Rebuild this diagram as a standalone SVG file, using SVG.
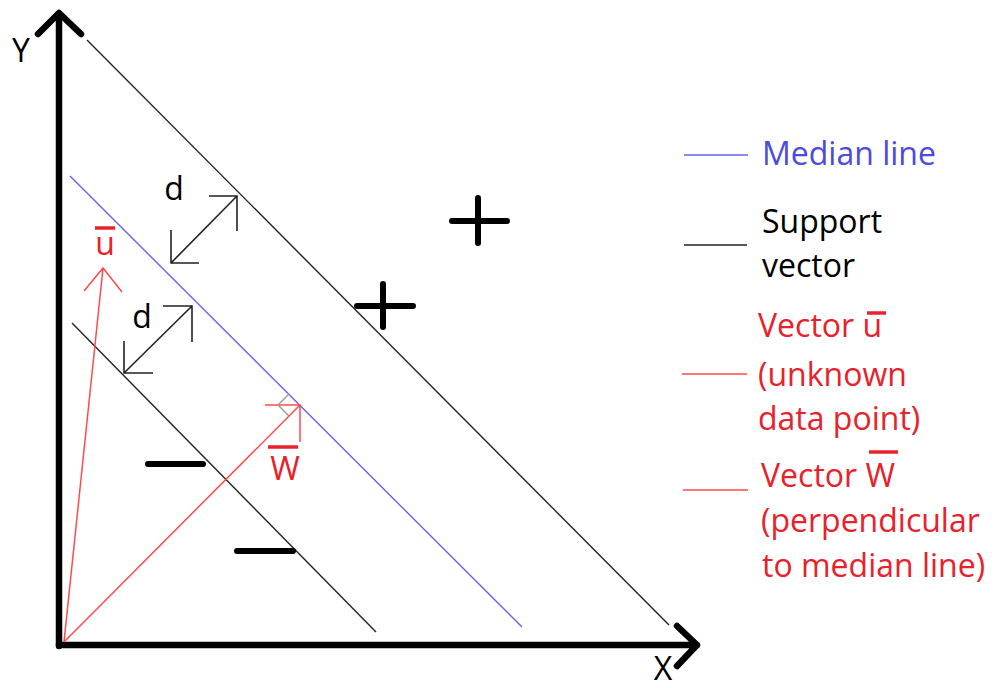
<svg xmlns="http://www.w3.org/2000/svg" width="995" height="688" viewBox="0 0 995 688">
<style>
.axis{stroke:#000;stroke-width:6.5;fill:none;stroke-linecap:round;stroke-linejoin:round}
.sv{stroke:#222;stroke-width:1.4;fill:none}
.med{stroke:#6464f0;stroke-width:1.4;fill:none}
.red{stroke:#ff4a4a;stroke-width:1.5;fill:none}
.dar{stroke:#222;stroke-width:1.6;fill:none}
.mark{stroke:#000;stroke-width:6;stroke-linecap:round;fill:none}
.bar{stroke:#e8212b;stroke-width:3.5;fill:none}
text{font-family:"Open Sans","Liberation Sans",sans-serif;font-size:32px}
.t-red{fill:#e8212b}
.t-blk{fill:#000}
.t-blue{fill:#4b4bdc}
</style>
<rect width="995" height="688" fill="#fff"/>
<g id="axes">
  <path class="axis" d="M59,646 L59,14 M38,34 L59,13 L81,34"/>
  <path class="axis" d="M59,645 L697,645 M677,626 L697,645 L677,666"/>
  <text class="t-blk" x="21" y="62" text-anchor="middle">Y</text>
  <text class="t-blk" x="663" y="680" text-anchor="middle" font-size="27">X</text>
</g>
<g id="connectors">
  <line id="upper-support" class="sv" x1="87" y1="40" x2="669" y2="625"/>
  <line id="median-line" class="med" x1="70" y1="176" x2="522" y2="627"/>
  <line id="lower-support" class="sv" x1="72" y1="323" x2="376" y2="632"/>
  <g id="vector-u">
    <path class="red" d="M64,642 L103,268 M84,291 L103,268 L122,292"/>
  </g>
  <g id="vector-w">
    <path class="red" d="M64,642 L300,405 M265,405 L300,405 L300,442"/>
    <path d="M289,394 L278,405 L289,416" stroke="#999" stroke-width="1.4" fill="none"/>
  </g>
  <g id="d-arrow-1">
    <path class="dar" d="M171,263 L237,196 M209,196 L237,196 L237,231 M171,230 L171,263 L199,263"/>
  </g>
  <g id="d-arrow-2">
    <path class="dar" d="M124,373 L192,306 M163,306 L192,306 L192,342 M124,341 L124,373 L153,373"/>
  </g>
</g>
<g id="label-d1"><text class="t-blk" x="174" y="200" text-anchor="middle" font-size="28">d</text></g>
<g id="label-d2"><text class="t-blk" x="142" y="328" text-anchor="middle" font-size="28">d</text></g>
<g id="label-u">
  <line class="bar" x1="95" y1="228" x2="115" y2="228"/>
  <text class="t-red" x="105" y="255" text-anchor="middle" font-size="30">u</text>
</g>
<g id="label-w">
  <line class="bar" x1="268" y1="447" x2="298" y2="447"/>
  <text class="t-red" x="285" y="480" text-anchor="middle" font-size="30">W</text>
</g>
<g id="plus-1"><path class="mark" d="M452,221 L507,221 M478,198 L478,243"/></g>
<g id="plus-2"><path class="mark" d="M357,306 L413,306 M383,284 L383,327"/></g>
<g id="minus-1"><path class="mark" d="M148,464 L203,464"/></g>
<g id="minus-2"><path class="mark" d="M237,551 L293,551"/></g>
<g id="legend-median">
  <line class="med" x1="684" y1="155" x2="748" y2="155"/>
  <text class="t-blue" x="762" y="165">Median line</text>
</g>
<g id="legend-support">
  <line class="sv" x1="684" y1="245" x2="747" y2="245" stroke-width="1.8"/>
  <text class="t-blk" x="762" y="233">Support</text>
  <text class="t-blk" x="762" y="277">vector</text>
</g>
<g id="legend-u">
  <line class="red" x1="682" y1="374" x2="747" y2="374"/>
  <text class="t-red" x="758" y="337">Vector u</text>
  <line class="bar" x1="867" y1="313" x2="886" y2="313"/>
  <text class="t-red" x="758" y="386">(unknown</text>
  <text class="t-red" x="758" y="430">data point)</text>
</g>
<g id="legend-w">
  <line class="red" x1="683" y1="490" x2="748" y2="490" stroke="#f06060" stroke-width="1.8"/>
  <text class="t-red" x="761" y="487">Vector W</text>
  <line class="bar" x1="869" y1="452" x2="898" y2="452"/>
  <text class="t-red" x="761" y="532">(perpendicular</text>
  <text class="t-red" x="762" y="577">to median line)</text>
</g>
</svg>
